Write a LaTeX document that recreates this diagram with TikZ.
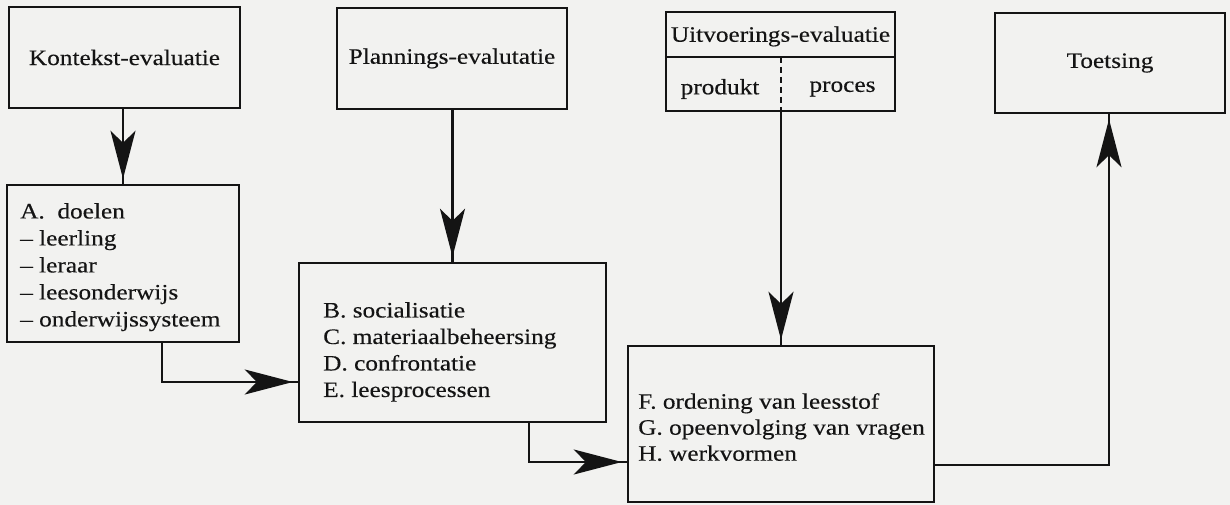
\documentclass[tikz,border=0pt]{standalone}
\usepackage{fontspec}
\setmainfont[FakeStretch=1.15,FakeBold=0.3]{Liberation Serif}
\usetikzlibrary{arrows.meta,calc}
\definecolor{paper}{RGB}{242,242,240}
\definecolor{ink}{RGB}{20,20,20}
\begin{document}
\begin{tikzpicture}[x=1pt,y=-1pt,
  every node/.style={font=\fontsize{22}{26.5}\selectfont, inner sep=0pt, text=ink},
  box/.style={draw=ink, line width=2.4pt, rectangle},
  lbl/.style={align=left, anchor=north west},
  ln/.style={draw=ink, line width=2.1pt},
  arr/.style={draw=ink, line width=2.1pt, -{Stealth[length=48pt,width=25pt,inset=12pt,fill=ink]}, shorten >=5pt},
]
\fill[paper] (0,0) rectangle (1230,505);
\useasboundingbox (0,0) rectangle (1230,505);

% top row
\node[box, minimum width=231pt, minimum height=101pt] (K) at (124.5,57.5) {Kontekst-evaluatie};
\node[box, minimum width=230pt, minimum height=101pt] (P) at (452,58.5) {Plannings-evalutatie};
\node[box, minimum width=229pt, minimum height=99pt] (U) at (780.5,61.5) {};
\node[box, minimum width=230pt, minimum height=100pt] (T) at (1110,63) {Toetsing};

\node (Ut) at (780.5,36.5) {Uitvoerings-evaluatie};
\node (Up) at (720,89) {produkt};
\node (Uq) at (842.5,89) {proces};
\draw[draw=ink, line width=2.1pt] (U.west |- 0,57) -- (U.east |- 0,57);
\draw[draw=ink, line width=1.3pt, dash pattern=on 6pt off 4pt] (781,57) -- (781,111);

% lower boxes
\node[box, minimum width=232pt, minimum height=157pt] (A) at (123,263.5) {};
\node[lbl] (Al) at (20,203) {A.~~doelen\\[0.5pt]-- leerling\\[0.5pt]-- leraar\\[0.5pt]-- leesonderwijs\\[0.5pt]-- onderwijssysteem};

\node[box, minimum width=307pt, minimum height=159pt] (B) at (452.5,342.5) {};
\node[lbl] (Bl) at (323,302) {B. socialisatie\\C. materiaalbeheersing\\D. confrontatie\\E. leesprocessen};

\node[box, minimum width=306pt, minimum height=156pt] (F) at (781,424) {};
\node[lbl] (Fl) at (638,393) {F. ordening van leesstof\\[-0.5pt]G. opeenvolging van vragen\\[-0.5pt]H. werkvormen};

% connectors
\draw[ln] (A.north |- K.south) -- (A.north);
\draw[arr] (A.north |- K.south) -- (A.north);

\draw[ln] (B.north |- P.south) -- (B.north);
\draw[arr] (B.north |- P.south) -- (B.north);

\draw[ln] (F.north |- U.south) -- (F.north);
\draw[arr] (F.north |- U.south) -- (F.north);

\coordinate (ab) at (162,382);
\draw[ln] (A.south -| ab) |- (B.west |- ab);
\draw[arr] (A.south -| ab) |- (B.west |- ab);

\coordinate (bf) at (529,462);
\draw[ln] (B.south -| bf) |- (F.west |- bf);
\draw[arr] (B.south -| bf) |- (F.west |- bf);

\coordinate (ft) at (1109,465);
\draw[ln] (F.east |- ft) -| (T.south -| ft);
\draw[arr] (F.east |- ft) -| (T.south -| ft);
\end{tikzpicture}
\end{document}
